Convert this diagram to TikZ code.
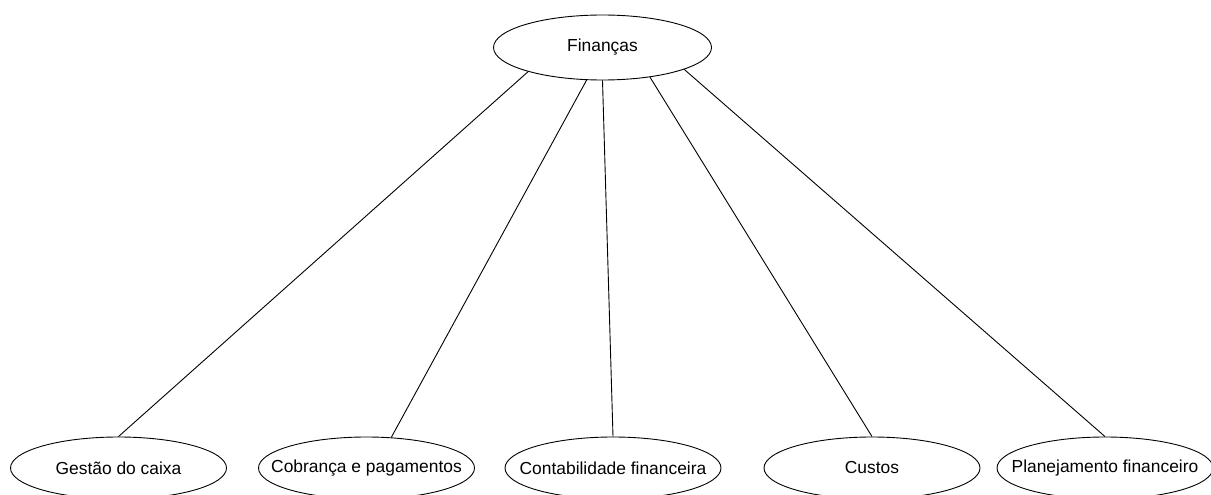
\documentclass[tikz,border=0pt]{standalone}
\usepackage{fontspec}
\setmainfont{Liberation Sans}
\usetikzlibrary{shapes.geometric}
\begin{document}
\begin{tikzpicture}[x=1pt,y=1pt,
  topic/.style={ellipse,draw,line width=0.9pt,inner sep=0pt,minimum width=216pt,minimum height=62pt},
  txt/.style={font=\fontsize{17.4}{20}\selectfont},
  link/.style={line width=0.9pt}]
\useasboundingbox (0,0) rectangle (1211,-495);
\node[topic,minimum width=218pt,minimum height=65pt,label={[txt]center:Finanças}] (fin) at (602.5,-47.5) {};
\node[topic,label={[txt]center:Gestão do caixa}] (gc) at (118.5,-468) {};
\node[topic,label={[txt]center:Cobrança e pagamentos}] (cp) at (366.5,-468) {};
\node[topic,label={[txt]center:Contabilidade financeira}] (cf) at (613,-468) {};
\node[topic,label={[txt]center:Custos}] (cu) at (872,-468) {};
\node[topic,label={[txt]center:Planejamento financeiro}] (pf) at (1105,-468) {};
\draw[link] (fin.198) -- (gc.north);
\draw[link] (fin.244) -- (cp.51);
\draw[link] (fin.south) -- (cf.north);
\draw[link] (fin.328) -- (cu.north);
\draw[link] (fin.345) -- (pf.north);
\end{tikzpicture}
\end{document}
